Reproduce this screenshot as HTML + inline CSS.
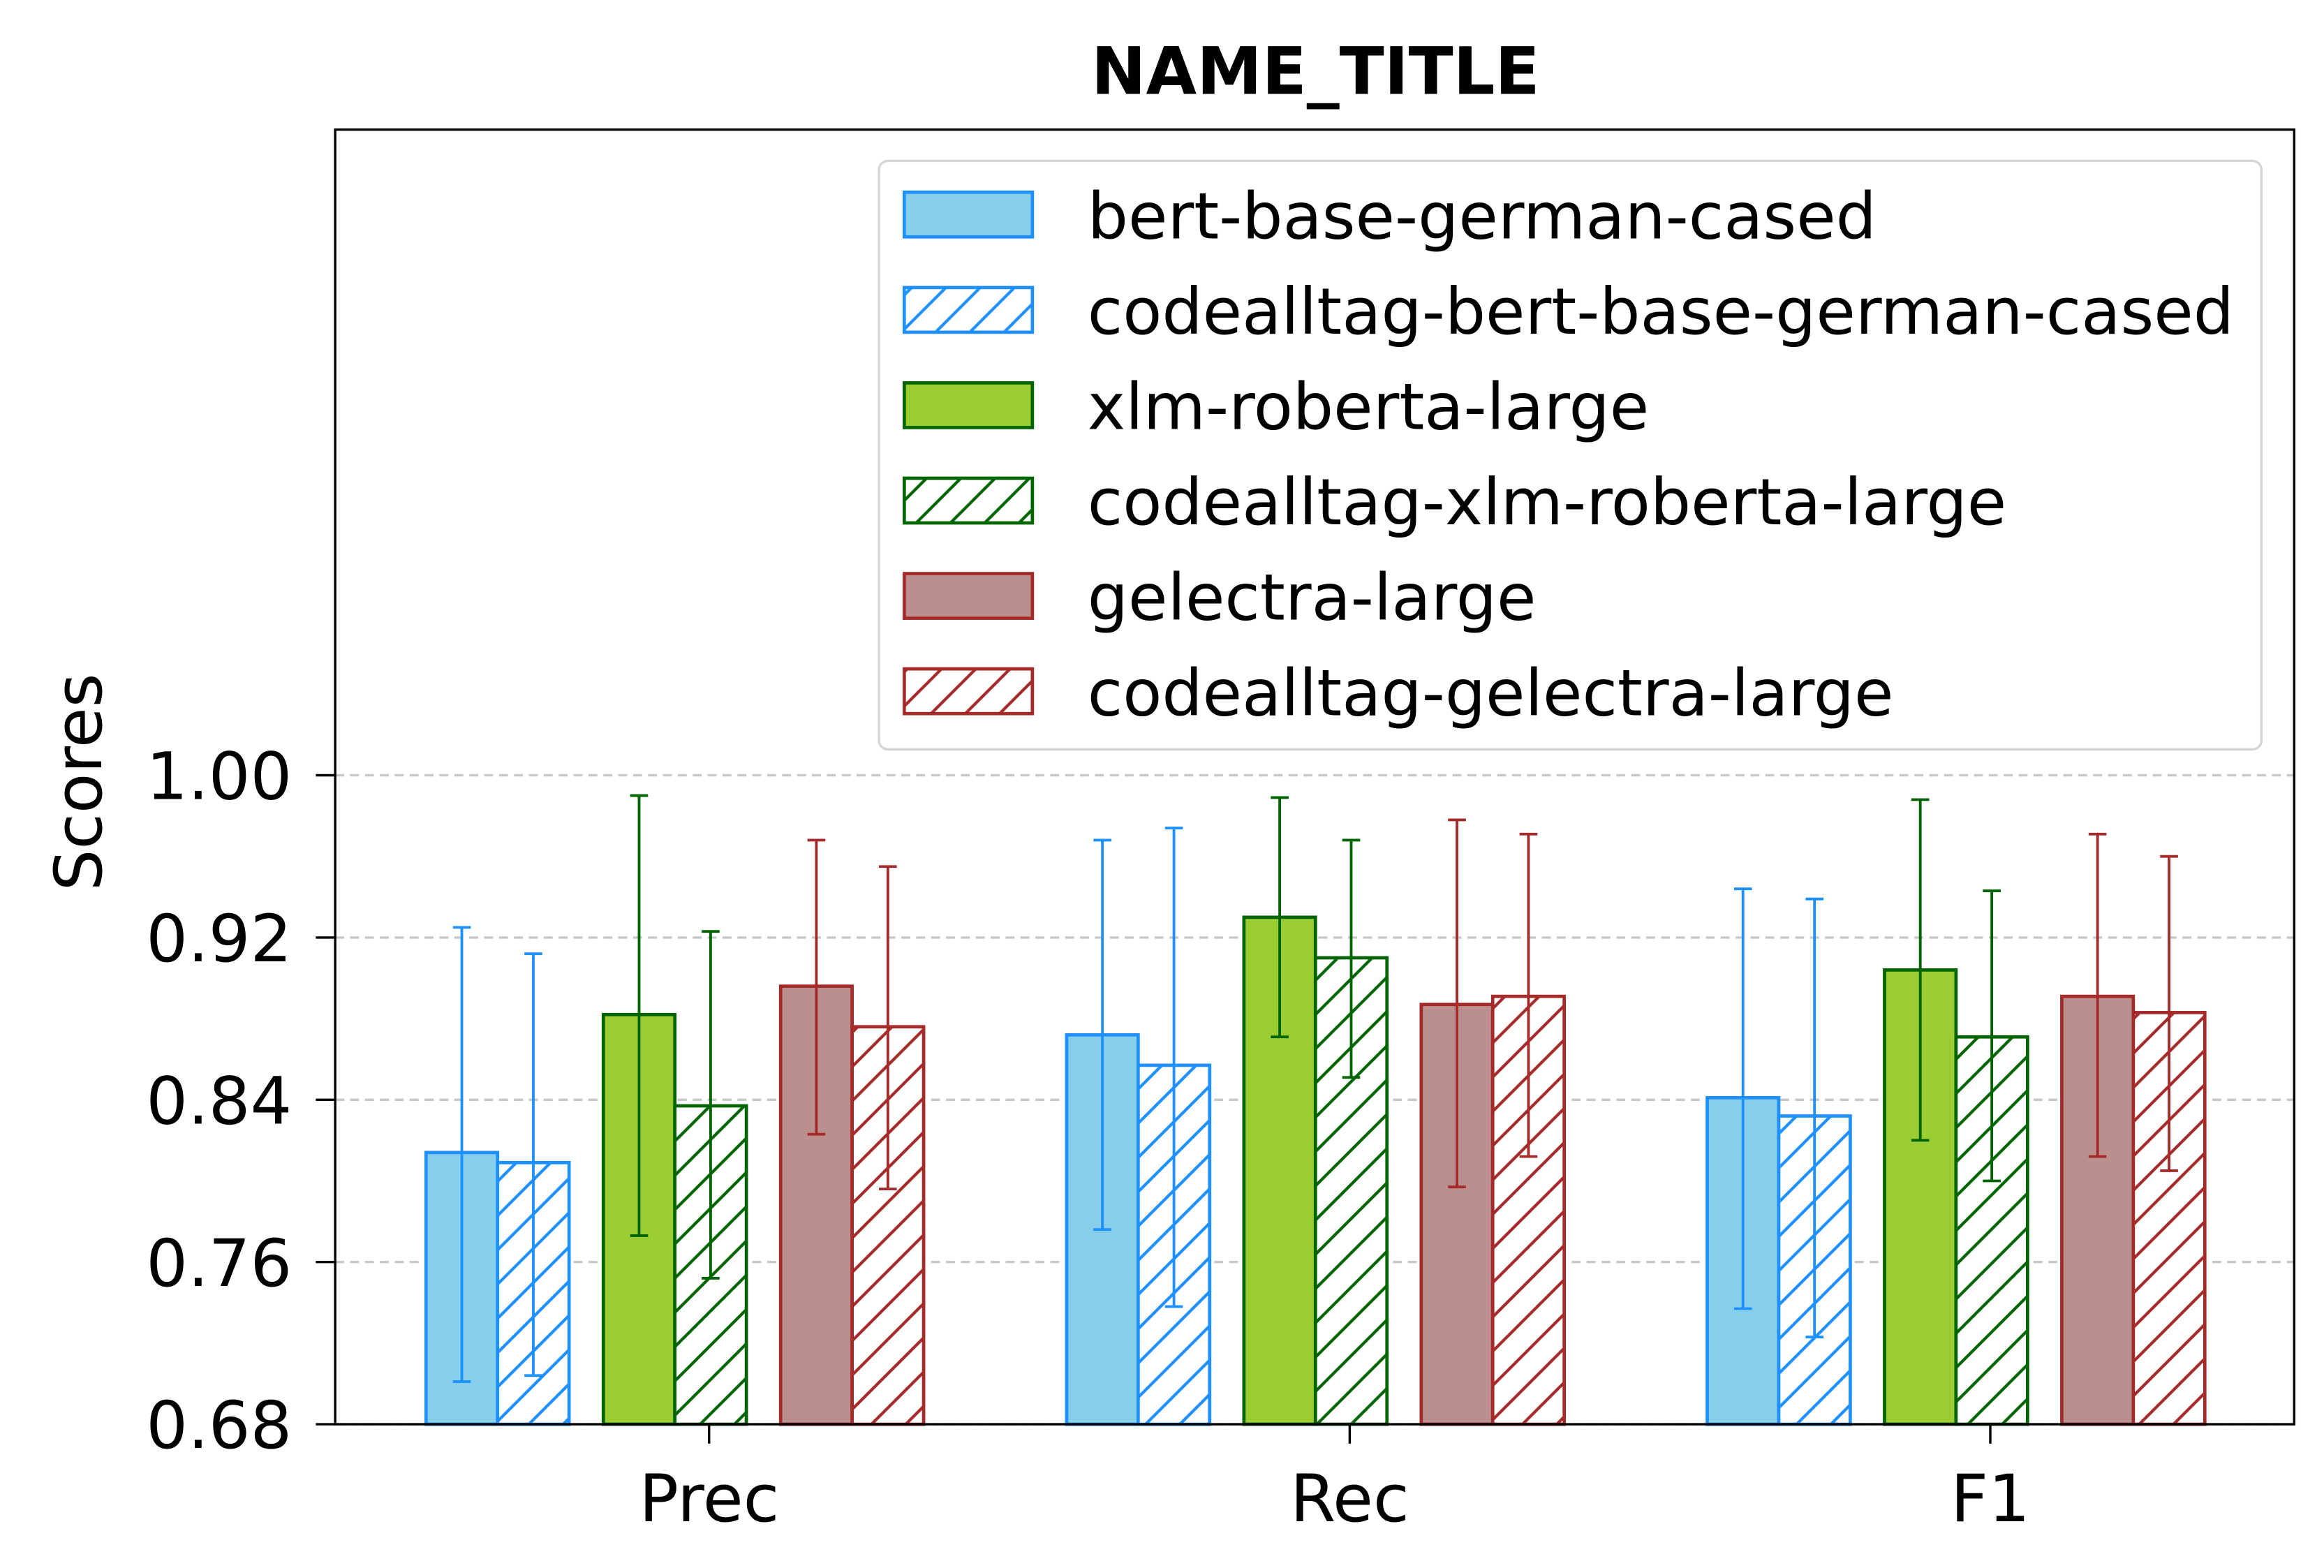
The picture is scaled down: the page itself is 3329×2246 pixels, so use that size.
<!DOCTYPE html>
<html><head><meta charset="utf-8"><style>
html,body{margin:0;padding:0;background:#fff;}
svg{display:block;}
text{font-family:"DejaVu Sans","Liberation Sans",sans-serif;}
</style></head><body>
<svg id="chart" xmlns="http://www.w3.org/2000/svg" width="3329" height="2246" viewBox="0 0 1560 1052.5" preserveAspectRatio="none">
<defs>
<pattern id="h0" patternUnits="userSpaceOnUse" width="23" height="23"><rect width="23" height="23" fill="#fff"/><path d="M-6,29 L29,-6 M-6,6 L6,-6 M17,29 L29,17" stroke="#1E90FF" stroke-width="2"/></pattern>
<pattern id="h1" patternUnits="userSpaceOnUse" width="23" height="23"><rect width="23" height="23" fill="#fff"/><path d="M-6,29 L29,-6 M-6,6 L6,-6 M17,29 L29,17" stroke="#006400" stroke-width="2"/></pattern>
<pattern id="h2" patternUnits="userSpaceOnUse" width="23" height="23"><rect width="23" height="23" fill="#fff"/><path d="M-6,29 L29,-6 M-6,6 L6,-6 M17,29 L29,17" stroke="#A52A2A" stroke-width="2"/></pattern>
</defs>
<g id="grid"></g>
<g id="bars"></g>
<g id="errs"></g>
<rect x="225" y="87" width="1315" height="869" fill="none" stroke="#000" stroke-width="1.6"/>
<g id="axes"></g>
<text x="883" y="63" font-size="44" font-weight="bold" text-anchor="middle">NAME_TITLE</text>
<text x="0" y="0" font-size="44" text-anchor="middle" transform="translate(68,525) rotate(-90)">Scores</text>
<g id="legend"></g>
</svg>
<script>
const categories = ["Prec", "Rec", "F1"];
const seriesNames = ["bert-base-german-cased","codealltag-bert-base-german-cased","xlm-roberta-large","codealltag-xlm-roberta-large","gelectra-large","codealltag-gelectra-large"];
const bertVals = [0.814, 0.872, 0.841];
const codBertVals = [0.809, 0.857, 0.832];
const xlmVals = [0.882, 0.930, 0.904];
const codXlmVals = [0.837, 0.910, 0.871];
const gelVals = [0.896, 0.887, 0.891];
const codGelVals = [0.876, 0.891, 0.883];
const bertLow = [0.701, 0.776, 0.737], bertHigh = [0.925, 0.968, 0.944];
const codBertLow = [0.704, 0.738, 0.723], codBertHigh = [0.912, 0.974, 0.939];
const xlmLow = [0.773, 0.871, 0.820], xlmHigh = [0.990, 0.989, 0.988];
const codXlmLow = [0.752, 0.851, 0.800], codXlmHigh = [0.923, 0.968, 0.943];
const gelLow = [0.823, 0.797, 0.812], gelHigh = [0.968, 0.978, 0.971];
const codGelLow = [0.796, 0.812, 0.805], codGelHigh = [0.955, 0.971, 0.960];
const yTicks = [0.68, 0.76, 0.84, 0.92, 1.00];

const vals=[bertVals,codBertVals,xlmVals,codXlmVals,gelVals,codGelVals];
const lows=[bertLow,codBertLow,xlmLow,codXlmLow,gelLow,codGelLow];
const highs=[bertHigh,codBertHigh,xlmHigh,codXlmHigh,gelHigh,codGelHigh];
const fills=["#87CEEB","url(#h0)","#9ACD32","url(#h1)","#BC8F8F","url(#h2)"];
const edges=["#1E90FF","#1E90FF","#006400","#006400","#A52A2A","#A52A2A"];
const offs=[-190,-142,-71,-23,48,96];
const BW=48;
const NS="http://www.w3.org/2000/svg";
function y(v){return 956-(v-0.68)/0.08*108.9;}
function x(i){return 476+i*430;}
function mk(tag,attrs,parent){const e=document.createElementNS(NS,tag);for(const k in attrs)e.setAttribute(k,attrs[k]);parent.appendChild(e);return e;}
const grid=document.getElementById('grid'),bars=document.getElementById('bars'),errs=document.getElementById('errs'),axes=document.getElementById('axes'),legend=document.getElementById('legend');
yTicks.forEach(t=>{
  const l=mk('line',{x1:225,x2:1540,y1:y(t),y2:y(t),stroke:'#c8c8c8','stroke-width':1.6,'stroke-dasharray':'6,4'},grid);
  
  
  const tk=mk('line',{x1:212,x2:225,y1:y(t),y2:y(t),stroke:'#000','stroke-width':1.6},axes);
  
  
  const tx=mk('text',{x:196,y:y(t)+16,'font-size':44,'text-anchor':'end'},axes);
  tx.textContent=t.toFixed(2);
  
  
});
categories.forEach((c,i)=>{
  const tk=mk('line',{x1:x(i),x2:x(i),y1:956,y2:969,stroke:'#000','stroke-width':1.6},axes);
  
  
  const tx=mk('text',{x:x(i),y:1021,'font-size':44,'text-anchor':'middle'},axes);
  tx.textContent=c;
  
  
  for(let s=0;s<6;s++){
    const bx=x(i)+offs[s],v=vals[s][i];
    const r=mk('rect',{x:bx,y:y(v),width:BW,height:956-y(v),fill:fills[s],stroke:edges[s],'stroke-width':2.2},bars);
    
    
    const cx=bx+BW/2;
    const g=mk('g',{stroke:edges[s],'stroke-width':1.8},errs);
    
    
    mk('line',{x1:cx,x2:cx,y1:y(lows[s][i]),y2:y(highs[s][i])},g);
    mk('line',{x1:cx-6,x2:cx+6,y1:y(lows[s][i]),y2:y(lows[s][i])},g);
    mk('line',{x1:cx-6,x2:cx+6,y1:y(highs[s][i]),y2:y(highs[s][i])},g);
  }
});
const lb=mk('rect',{x:590,y:108,width:928,height:395,rx:6,fill:'#fff','fill-opacity':0.85,stroke:'#d5d5d5','stroke-width':1.6},legend);


seriesNames.forEach((n,s)=>{
  const cy=144+s*64;
  const g=mk('g',{},legend);
  
  
  mk('rect',{x:607,y:cy-15,width:86,height:30,fill:fills[s],stroke:edges[s],'stroke-width':2.2},g);
  const t=mk('text',{x:730,y:cy+16,'font-size':43},g);
  t.textContent=n;
});
</script>
</body></html>
